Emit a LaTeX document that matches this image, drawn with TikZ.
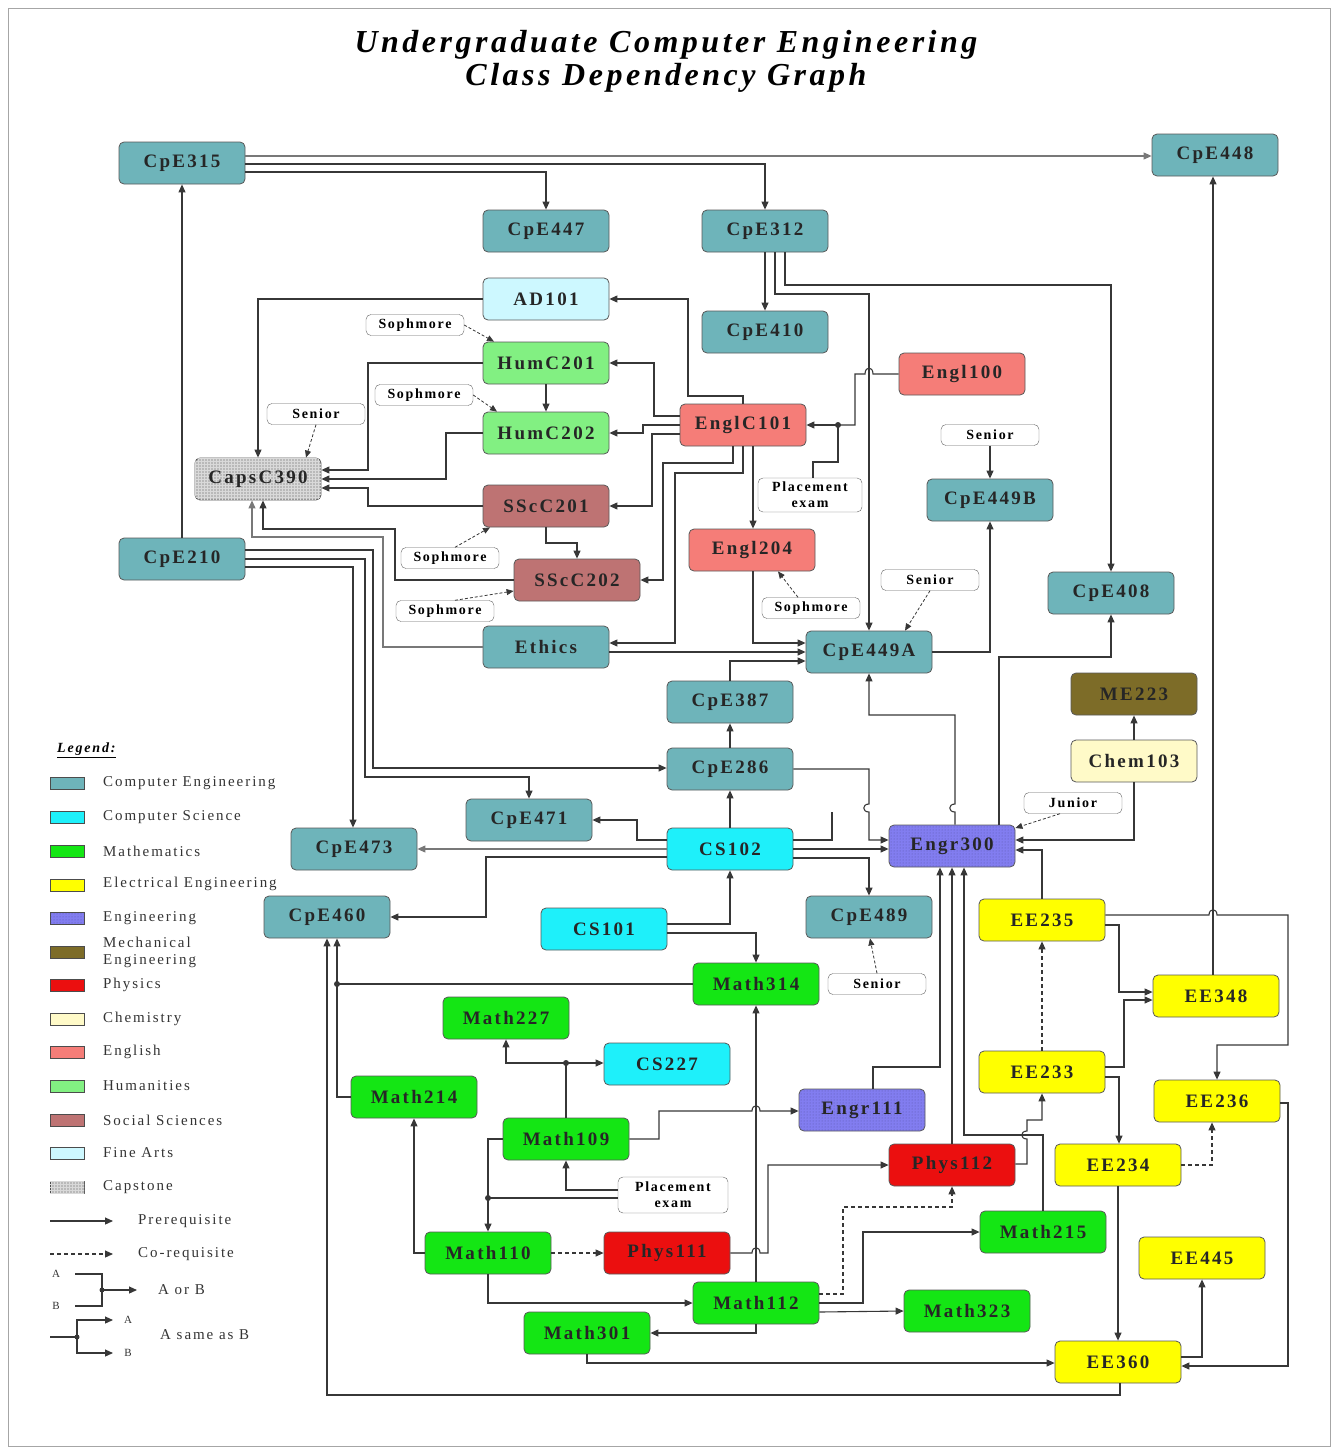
\documentclass[tikz,border=0pt]{standalone}
\usepackage{fontspec}
\setmainfont{Liberation Serif}
\newfontfamily\nodefont[LetterSpace=12]{Liberation Serif}
\newfontfamily\legfont[LetterSpace=13]{Liberation Serif}
\newfontfamily\titfont[LetterSpace=11]{Liberation Serif}
\usetikzlibrary{arrows.meta,patterns}
\definecolor{cpe}{RGB}{110,180,186}
\definecolor{cs}{RGB}{30,240,250}
\definecolor{math}{RGB}{20,230,20}
\definecolor{ee}{RGB}{255,255,0}
\definecolor{engr}{RGB}{130,125,240}
\definecolor{me}{RGB}{125,108,40}
\definecolor{phys}{RGB}{235,15,15}
\definecolor{chem}{RGB}{255,250,200}
\definecolor{engl}{RGB}{245,125,120}
\definecolor{hum}{RGB}{130,240,130}
\definecolor{soc}{RGB}{190,115,115}
\definecolor{arts}{RGB}{205,248,255}
\definecolor{caps}{RGB}{185,185,185}
\definecolor{linec}{RGB}{55,55,55}
\definecolor{linel}{RGB}{120,120,120}
\tikzset{
  box/.style={draw=black!65, line width=0.8pt, rounded corners=5pt, minimum width=126pt, minimum height=42pt, inner sep=0pt, text=black!85, font={\nodefont\bfseries\fontsize{19}{20}\selectfont}},
  capsbox/.style={box, fill=caps, postaction={pattern=grid, pattern color=white!85!black}},
  engrbox/.style={box, fill=engr, postaction={pattern=dots, pattern color=engr!70!black}},
  lbl/.style={draw=black!60, fill=white, rounded corners=5pt, minimum width=98pt, minimum height=21pt, inner sep=2pt, font={\nodefont\bfseries\fontsize{14}{15}\selectfont}},
  ln/.style={draw=linec, line width=1.1pt},
  pre/.style={ln, -{Triangle[length=8pt,width=7pt]}},
  co/.style={pre, dash pattern=on 4pt off 3pt},
  lb/.style={draw=linec, line width=0.8pt, dash pattern=on 3pt off 2pt, -{Triangle[length=7pt,width=6pt]}},
  swatch/.style={draw=black!70, line width=0.8pt, minimum width=34pt, minimum height=12pt, inner sep=0pt},
  legtxt/.style={anchor=west, inner sep=0pt, font={\legfont\fontsize{15}{17}\selectfont}, text=black!80},
  small/.style={inner sep=0pt, font={\legfont\fontsize{11}{12}\selectfont}, text=black!80}
}
\begin{document}
\begin{tikzpicture}[x=1pt,y=-1pt]
\useasboundingbox (0,0) rectangle (1334,1448);
\draw[gray!70, line width=1pt] (8,8) rectangle (1330,1446);
% title
\node[font={\titfont\bfseries\itshape\fontsize{32}{33}\selectfont}] (t1) at (666,45) {Undergraduate Computer Engineering};
\node[font={\titfont\bfseries\itshape\fontsize{32}{33}\selectfont}] (t2) at (666,78) {Class Dependency Graph};
% nodes
\node[box,fill=cpe] (CpE315) at (182,163) {CpE315};
\node[box,fill=cpe] (CpE447) at (546,231) {CpE447};
\node[box,fill=cpe] (CpE312) at (765,231) {CpE312};
\node[box,fill=cpe] (CpE448) at (1215,155) {CpE448};
\node[box,fill=arts] (AD101) at (546,299) {AD101};
\node[box,fill=cpe] (CpE410) at (765,332) {CpE410};
\node[box,fill=hum] (HumC201) at (546,363) {HumC201};
\node[box,fill=engl] (Engl100) at (962,374) {Engl100};
\node[box,fill=hum] (HumC202) at (546,433) {HumC202};
\node[box,fill=engl] (EnglC101) at (743,425) {EnglC101};
\node[capsbox] (CapsC390) at (258,479) {CapsC390};
\node[box,fill=soc] (SScC201) at (546,506) {SScC201};
\node[box,fill=cpe] (CpE449B) at (990,500) {CpE449B};
\node[box,fill=engl] (Engl204) at (752,550) {Engl204};
\node[box,fill=cpe] (CpE210) at (182,559) {CpE210};
\node[box,fill=soc] (SScC202) at (577,580) {SScC202};
\node[box,fill=cpe] (CpE408) at (1111,593) {CpE408};
\node[box,fill=cpe] (Ethics) at (546,647) {Ethics};
\node[box,fill=cpe] (CpE449A) at (869,652) {CpE449A};
\node[box,fill=me] (MF223) at (1134,694) {ME223};
\node[box,fill=chem] (Chem103) at (1134,761) {Chem103};
\node[box,fill=cpe] (CpE387) at (730,702) {CpE387};
\node[box,fill=cpe] (CpE286) at (730,769) {CpE286};
\node[box,fill=cpe] (CpE471) at (529,820) {CpE471};
\node[box,fill=cpe] (CpE473) at (354,849) {CpE473};
\node[box,fill=cs] (CS102) at (730,849) {CS102};
\node[engrbox] (Engr300) at (952,846) {Engr300};
\node[box,fill=cpe] (CpE460) at (327,917) {CpE460};
\node[box,fill=cs] (CS101) at (604,929) {CS101};
\node[box,fill=cpe] (CpE489) at (869,917) {CpE489};
\node[box,fill=ee] (EE235) at (1042,920) {EE235};
\node[box,fill=math] (Math314) at (756,984) {Math314};
\node[box,fill=ee] (EE348) at (1216,996) {EE348};
\node[box,fill=math] (Math227) at (506,1018) {Math227};
\node[box,fill=cs] (CS227) at (667,1064) {CS227};
\node[box,fill=ee] (EE233) at (1042,1072) {EE233};
\node[box,fill=math] (Math214) at (414,1097) {Math214};
\node[box,fill=ee] (EE236) at (1217,1101) {EE236};
\node[engrbox] (Engr111) at (862,1110) {Engr111};
\node[box,fill=math] (Math109) at (566,1139) {Math109};
\node[box,fill=phys] (Phys112) at (952,1165) {Phys112};
\node[box,fill=ee] (EE234) at (1118,1165) {EE234};
\node[box,fill=math] (Math110) at (488,1253) {Math110};
\node[box,fill=phys] (Phys111) at (667,1253) {Phys111};
\node[box,fill=math] (Math215) at (1043,1232) {Math215};
\node[box,fill=ee] (EE445) at (1202,1258) {EE445};
\node[box,fill=math] (Math112) at (756,1303) {Math112};
\node[box,fill=math] (Math323) at (967,1311) {Math323};
\node[box,fill=math] (Math301) at (587,1333) {Math301};
\node[box,fill=ee] (EE360) at (1118,1362) {EE360};
% labels
\node[lbl] (soph1) at (415,325) {Sophmore};
\node[lbl] (soph2) at (424,395) {Sophmore};
\node[lbl] (sen1) at (316,414) {Senior};
\node[lbl] (sen2) at (990,435) {Senior};
\node[lbl,minimum width=104pt,minimum height=34pt,align=center,font={\nodefont\bfseries\fontsize{14}{16}\selectfont}] (pe1) at (810,495) {Placement\\exam};
\node[lbl] (soph3) at (450,558) {Sophmore};
\node[lbl] (sen3) at (930,580) {Senior};
\node[lbl] (soph4) at (445,611) {Sophmore};
\node[lbl] (soph5) at (811,608) {Sophmore};
\node[lbl] (jun) at (1073,803) {Junior};
\node[lbl] (sen4) at (877,984) {Senior};
\node[lbl,minimum width=110pt,minimum height=36pt,align=center,font={\nodefont\bfseries\fontsize{14}{16}\selectfont}] (pe2) at (673,1195) {Placement\\exam};
% connectors: top
\draw[pre,draw=linel] (CpE315.east |- 0,156) -- (CpE448.west |- 0,156);
\draw[pre] (CpE315.east |- 0,164) -| (CpE312.north);
\draw[pre] (CpE315.east |- 0,172) -| (CpE447.north);
\draw[pre] (CpE210.north) -- (CpE315.south);
\draw[pre] (CpE312.south) -- (CpE410.north);
\draw[pre] (CpE312.south -| 785,0) -- (785,285) -| (CpE408.north);
\draw[pre] (CpE312.south -| 775,0) -- (775,294) -| (CpE449A.north);
% English
\draw[ln] (Engl100.west) -- (873,374) .. controls (873,366) and (865,366) .. (865,374) -- (855,374) -- (855,425) -- (838,425);
\draw[pre] (838,425) -- (EnglC101.east);
\draw[ln] (pe1.north -| 813,0) -- (813,462) -- (838,462) -- (838,425);
\fill[linec] (838,425) circle (3pt);
\draw[pre] (EnglC101.north) -- (743,396) -- (688,396) |- (AD101.east);
\draw[pre] (EnglC101.west |- 0,416) -- (654,416) |- (HumC201.east);
\draw[pre] (EnglC101.west |- 0,425) -- (643,425) |- (HumC202.east);
\draw[pre] (EnglC101.west |- 0,434) -- (652,434) |- (SScC201.east);
\draw[pre] (EnglC101.south -| 733,0) -- (733,463) -- (663,463) |- (SScC202.east);
\draw[pre] (EnglC101.south -| 743,0) -- (743,473) -- (675,473) |- (Ethics.east |- 0,643);
\draw[pre] (EnglC101.south -| 753,0) -- (Engl204.north -| 753,0);
\draw[pre] (Engl204.south -| 753,0) |- (CpE449A.west |- 0,643);
\draw[pre] (Ethics.east |- 0,652) -- (CpE449A.west |- 0,652);
\draw[pre] (CpE387.north) |- (CpE449A.west |- 0,661);
\draw[pre] (CpE449A.east) -| (CpE449B.south);
\draw[pre] (sen2.south) -- (CpE449B.north);
\draw[lb] (sen3.south) -- (CpE449A.north -| 905,0);
\draw[lb] (soph5.north -| 798,0) -- (Engl204.south -| 778,0);
% Capstone
\draw[pre] (AD101.west) -| (CapsC390.north);
\draw[lb] (sen1.south) -- (CapsC390.north -| 306,0);
\draw[pre] (HumC201.west) -- (368,363) |- (CapsC390.east |- 0,470);
\draw[pre] (HumC202.west) -- (446,433) |- (CapsC390.east |- 0,479);
\draw[pre] (SScC201.west) -- (368,506) |- (CapsC390.east |- 0,488);
\draw[pre] (SScC202.west) -- (395,580) -- (395,529) -- (263,529) -- (CapsC390.south -| 263,0);
\draw[pre,draw=linel] (Ethics.west) -- (383,647) -- (383,537) -- (252,537) -- (CapsC390.south -| 252,0);
\draw[pre] (HumC201.south) -- (HumC202.north);
\draw[pre] (SScC201.south) -- (546,543) -| (SScC202.north);
\draw[lb] (soph1.east) -- (HumC201.north -| 494,0);
\draw[lb] (soph2.east) -- (HumC202.north -| 497,0);
\draw[lb] (soph3.north -| 455,0) -- (SScC201.south -| 490,0);
\draw[lb] (soph4.north -| 455,0) -- (SScC202.west |- 0,591);
% CpE210
\draw[pre] (CpE210.east |- 0,550) -- (373,550) -- (373,768) -- (CpE286.west |- 0,768);
\draw[pre] (CpE210.east |- 0,559) -- (365,559) -- (365,777) -| (CpE471.north);
\draw[pre] (CpE210.east |- 0,567) -- (353,567) -- (CpE473.north -| 353,0);
% CS102
\draw[pre] (CS102.north) -- (CpE286.south);
\draw[pre] (CpE286.north) -- (CpE387.south);
\draw[pre] (CS102.west |- 0,840) -- (637,840) |- (CpE471.east);
\draw[pre,draw=linel] (CS102.west) -- (CpE473.east);
\draw[pre] (CS102.west |- 0,857) -- (486,857) |- (CpE460.east);
\draw[ln] (CS102.east |- 0,840) -- (832,840) -- (832,812);
\draw[pre] (CS102.east |- 0,849) -- (Engr300.west |- 0,849);
\draw[pre] (CS102.east |- 0,858) -- (869,858) -- (CpE489.north);
\draw[pre] (CpE286.east) -- (869,769) -- (869,804) .. controls (862,804) and (862,812) .. (869,812) -- (869,840) -- (Engr300.west |- 0,840);
\draw[pre] (CS101.east |- 0,924) -| (CS102.south);
\draw[pre] (CS101.east |- 0,933) -| (Math314.north);
% Engr300
\draw[pre] (Engr300.north -| 955,0) -- (955,812) .. controls (948,812) and (948,804) .. (955,804) -- (955,715) -| (CpE449A.south);
\draw[pre] (Engr300.north -| 999,0) -- (999,657) -| (CpE408.south);
\draw[lb] (jun.south -| 1060,0) -- (Engr300.east |- 0,828);
\draw[pre] (Chem103.south) -- (1134,840) -- (Engr300.east |- 0,840);
\draw[pre] (EE235.north) |- (Engr300.east |- 0,850);
\draw[pre] (Chem103.north) -- (MF223.south);
\draw[lb] (sen4.north -| 877,0) -- (CpE489.south -| 870,0);
\draw[pre] (Engr111.north -| 873,0) -- (873,1067) -- (940,1067) -- (Engr300.south -| 940,0);
\draw[pre] (Phys112.north) -- (Engr300.south -| 952,0);
\draw[pre] (Math215.north) -- (1043,1135) -- (964,1135) -- (Engr300.south -| 964,0);
\draw[pre] (Phys112.east |- 0,1164) -- (1027,1164) -- (1027,1139) .. controls (1020,1139) and (1020,1131) .. (1027,1131) -- (1027,1120) -- (1042,1120) -- (EE233.south);
% EE
\draw[co] (EE233.north) -- (EE235.south);
\draw[pre] (EE235.east |- 0,925) -- (1119,925) |- (EE348.west |- 0,992);
\draw[pre] (EE233.east |- 0,1067) -- (1124,1067) |- (EE348.west |- 0,1000);
\draw[pre] (EE233.east |- 0,1077) -- (1119,1077) -- (EE234.north -| 1119,0);
\draw[pre] (EE235.east |- 0,915) -- (1209,915) .. controls (1209,908) and (1217,908) .. (1217,915) -- (1288,915) -- (1288,1045) -- (1217,1045) -- (EE236.north);
\draw[pre] (EE348.north -| 1213,0) -- (CpE448.south -| 1213,0);
\draw[co] (EE234.east) -- (1212,1165) -- (EE236.south -| 1212,0);
\draw[pre] (EE234.south) -- (EE360.north);
\draw[pre] (EE360.east |- 0,1357) -- (1202,1357) -- (EE445.south);
\draw[pre] (EE236.east |- 0,1103) -- (1288,1103) -- (1288,1366) -- (EE360.east |- 0,1366);
\draw[pre] (EE360.south -| 1120,0) -- (1120,1395) -- (327,1395) -- (CpE460.south -| 327,0);
\draw[pre] (Math301.south) |- (EE360.west |- 0,1363);
% Math
\draw[ln] (Math314.west) -- (337,984);
\draw[ln] (Math214.west) -- (337,1097) -- (337,984);
\draw[pre] (337,984) -- (CpE460.south -| 337,0);
\fill[linec] (337,984) circle (3pt);
\draw[pre] (Math110.west) -- (414,1253) -- (Math214.south);
\draw[ln] (Math109.north) -- (566,1063);
\draw[pre] (566,1063) -- (506,1063) -- (Math227.south);
\draw[pre] (566,1063) -- (CS227.west |- 0,1063);
\fill[linec] (566,1063) circle (3pt);
\draw[pre] (Math109.east) -- (659,1139) -- (659,1111) -- (752,1111) .. controls (752,1104) and (760,1104) .. (760,1111) -- (Engr111.west |- 0,1111);
\draw[pre] (Math112.north) -- (Math314.south);
\draw[pre] (pe2.west |- 0,1190) -- (566,1190) -- (Math109.south);
\draw[ln] (Math109.west) -- (488,1139) -- (488,1198);
\draw[ln] (pe2.west |- 0,1198) -- (488,1198);
\draw[pre] (488,1198) -- (Math110.north);
\fill[linec] (488,1198) circle (3pt);
\draw[co] (Math110.east) -- (Phys111.west);
\draw[pre] (Math110.south) |- (Math112.west);
\draw[pre] (Math112.south) -- (756,1333) -- (Math301.east);
\draw[pre] (Phys111.east) -- (752,1253) .. controls (752,1246) and (760,1246) .. (760,1253) -- (768,1253) -- (768,1165) -- (Phys112.west);
\draw[co] (Math112.east |- 0,1294) -- (843,1294) -- (843,1207) -- (952,1207) -- (Phys112.south);
\draw[pre] (Math112.east |- 0,1303) -- (863,1303) |- (Math215.west);
\draw[pre] (Math112.east |- 0,1312) -- (Math323.west);
% legend
\node[anchor=west, inner sep=0pt, font={\legfont\bfseries\itshape\fontsize{14}{15}\selectfont}] (legt) at (57,750) {\underline{Legend:}};
\node[swatch,fill=cpe] (s1) at (67,783) {};   \node[legtxt] (l1) at (103,783) {Computer Engineering};
\node[swatch,fill=cs] (s2) at (67,817) {};    \node[legtxt] (l2) at (103,817) {Computer Science};
\node[swatch,fill=math] (s3) at (67,851) {};  \node[legtxt] (l3) at (103,851) {Mathematics};
\node[swatch,fill=ee] (s4) at (67,885) {};    \node[legtxt] (l4) at (103,884) {Electrical Engineering};
\node[swatch,fill=engr,postaction={pattern=dots, pattern color=engr!70!black}] (s5) at (67,918) {}; \node[legtxt] (l5) at (103,918) {Engineering};
\node[swatch,fill=me] (s6) at (67,952) {};    \node[legtxt,align=left] (l6) at (103,952) {Mechanical\\Engineering};
\node[swatch,fill=phys] (s7) at (67,985) {};  \node[legtxt] (l7) at (103,985) {Physics};
\node[swatch,fill=chem] (s8) at (67,1019) {}; \node[legtxt] (l8) at (103,1019) {Chemistry};
\node[swatch,fill=engl] (s9) at (67,1052) {}; \node[legtxt] (l9) at (103,1052) {English};
\node[swatch,fill=hum] (s10) at (67,1086) {}; \node[legtxt] (l10) at (103,1086) {Humanities};
\node[swatch,fill=soc] (s11) at (67,1120) {}; \node[legtxt] (l11) at (103,1120) {Social Sciences};
\node[swatch,fill=arts] (s12) at (67,1153) {}; \node[legtxt] (l12) at (103,1153) {Fine Arts};
\node[swatch,fill=caps,postaction={pattern=grid, pattern color=white!85!black}] (s13) at (67,1187) {}; \node[legtxt] (l13) at (103,1187) {Capstone};
\coordinate (pa) at (50,1221); \coordinate (pb) at (113,1221);
\draw[pre] (pa) -- (pb); \node[legtxt] (l14) at (138,1221) {Prerequisite};
\coordinate (ca) at (50,1254); \coordinate (cb) at (113,1254);
\draw[co] (ca) -- (cb); \node[legtxt] (l15) at (138,1254) {Co-requisite};
\node[small] (la) at (56,1274) {A};
\node[small] (lbB) at (56,1306) {B};
\draw[ln] (75,1274) -- (102,1274) -- (102,1306) -- (75,1306);
\draw[pre] (102,1290) -- (137,1290);
\fill[linec] (102,1290) circle (2.5pt);
\node[legtxt] (l16) at (158,1290) {A or B};
\draw[ln] (50,1337) -- (77,1337);
\draw[pre] (77,1337) |- (113,1320);
\draw[pre] (77,1337) |- (113,1353);
\fill[linec] (77,1337) circle (2.5pt);
\node[small] (ra) at (128,1320) {A};
\node[small] (rb) at (128,1353) {B};
\node[legtxt] (l17) at (160,1335) {A same as B};
\end{tikzpicture}
\end{document}
